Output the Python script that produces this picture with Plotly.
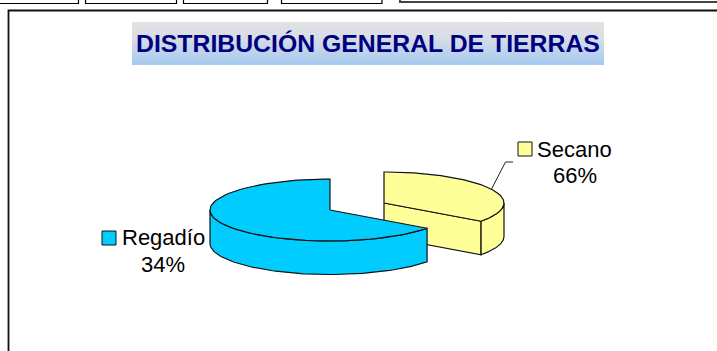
import numpy as np
import plotly.graph_objects as go

# Chart values
categories = ["Regadío", "Secano"]
label_pct = [34, 66]      # percentages printed on the labels
slice_share = [65, 35]    # share of the circle each slice covers in the picture (not the same as the labels)
title_text = "DISTRIBUCIÓN GENERAL DE TIERRAS"

BLUE = "#00CCFF"
YELLOW = "#FFFF99"
EDGE = "#111111"

# pie geometry, in page pixels
RX, RY, DEPTH = 120, 31, 33.5
CENTERS = {"Regadío": (330, 210), "Secano": (384, 203)}

# slices start at 12 o'clock: Secano runs clockwise, Regadío anticlockwise
sweep_blue = slice_share[0] / 100 * 360
theta_cut = 90 + sweep_blue


def arc(center, a0, a1, drop=0):
    t = np.radians(np.linspace(a0, a1, 90))
    return center[0] + RX * np.cos(t), center[1] - RY * np.sin(t) + drop


def poly(fig, xs, ys, color, width=1.2):
    fig.add_trace(go.Scatter(x=list(xs), y=list(ys), mode="lines", fill="toself",
                             fillcolor=color, line=dict(color=EDGE, width=width),
                             hoverinfo="skip", showlegend=False))


def line(fig, xs, ys, color="black", width=1):
    fig.add_trace(go.Scatter(x=xs, y=ys, mode="lines", line=dict(color=color, width=width),
                             hoverinfo="skip", showlegend=False))


fig = go.Figure()

# Page frame and the tab boxes cut off at the top
for x0, x1 in [(-5, 78.5), (85.5, 176.5), (183.5, 267.5), (281.5, 382)]:
    line(fig, [x0, x0, x1, x1], [-5, 3.5, 3.5, -5], width=1.2)
line(fig, [400, 400, 720], [-5, 2, 2], color="#444444", width=2)
line(fig, [8.5, 8.5, 720], [355, 10.5, 10.5], color="#111111", width=1.8)

# Title band
fig.add_trace(go.Scatter(x=[132, 604, 604, 132, 132], y=[22, 22, 65, 65, 22], mode="lines",
                         line=dict(width=0), fill="toself",
                         fillgradient=dict(type="vertical", start=22, stop=65,
                                           colorscale=[[0, "#E2E2E2"], [0.35, "#D8DEE6"], [1, "#A6CAF0"]]),
                         hoverinfo="skip", showlegend=False))

# Secano slice, drawn first so Regadío overlaps it
c = CENTERS["Secano"]
cut = theta_cut - 360
ex, ey = arc(c, cut, cut)
poly(fig, [c[0], ex[0], ex[0], c[0], c[0]], [c[1], ey[0], ey[0] + DEPTH, c[1] + DEPTH, c[1]], YELLOW)
tx, ty = arc(c, cut, 0)
bx, by = arc(c, 0, cut, DEPTH)
poly(fig, np.r_[tx, bx, tx[0]], np.r_[ty, by, ty[0]], YELLOW)
tx, ty = arc(c, 90, cut)
poly(fig, np.r_[c[0], tx, c[0]], np.r_[c[1], ty, c[1]], YELLOW)

# Regadío slice
c = CENTERS["Regadío"]
tx, ty = arc(c, 180, theta_cut)
bx, by = arc(c, theta_cut, 180, DEPTH)
poly(fig, np.r_[tx, bx, tx[0]], np.r_[ty, by, ty[0]], BLUE)
tx, ty = arc(c, 90, theta_cut)
poly(fig, np.r_[c[0], tx, c[0]], np.r_[c[1], ty, c[1]], BLUE)

# Leader line for Secano
line(fig, [491.5, 505.5, 513], [189, 162, 162], color="#222222", width=1)

# Legend keys next to the labels
fig.add_trace(go.Scatter(x=[109, 525], y=[238, 149], mode="markers",
                         marker=dict(symbol="square", size=14, color=[BLUE, YELLOW],
                                     line=dict(color=EDGE, width=1)),
                         hoverinfo="skip", showlegend=False))

annotations = [
    dict(x=368, y=43, text=f"<b>{title_text}</b>", font=dict(family="Liberation Sans", size=24.8, color="#000080")),
    dict(x=163, y=237, text=categories[0]),
    dict(x=163, y=264, text=f"{label_pct[0]}%"),
    dict(x=574.5, y=149, text=categories[1]),
    dict(x=574.5, y=175, text=f"{label_pct[1]}%"),
]
for a in annotations:
    a.setdefault("font", dict(family="Liberation Sans", size=22, color="black"))
    fig.add_annotation(showarrow=False, xanchor="center", yanchor="middle", **a)

fig.update_layout(width=717, height=351, margin=dict(l=0, r=0, t=0, b=0),
                  paper_bgcolor="white", plot_bgcolor="white", showlegend=False,
                  xaxis=dict(range=[0, 717], visible=False),
                  yaxis=dict(range=[351, 0], visible=False))

fig.write_html("out.html", config={"displayModeBar": False},
               post_script="document.body.style.margin='0';document.body.style.overflow='hidden';")
